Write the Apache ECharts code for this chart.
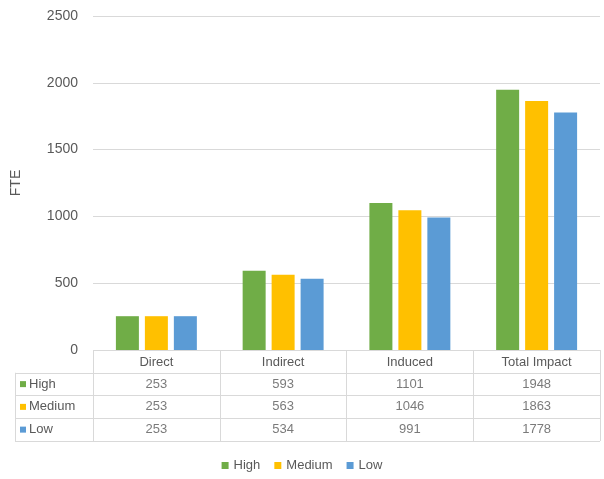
<!DOCTYPE html>
<html>
<head>
<meta charset="utf-8">
<script src="https://cdn.jsdelivr.net/npm/echarts@6/dist/echarts.min.js"></script>
<style>
  html, body { margin: 0; padding: 0; background: #fff; }
  #chart { width: 604px; height: 479px; }
</style>
</head>
<body>
<div id="chart"></div>
<script>
// Employment impact (FTE) by effect type and scenario
const categories = ['Direct', 'Indirect', 'Induced', 'Total Impact'];
const scenarios = ['High', 'Medium', 'Low'];
const highValues = [253, 593, 1101, 1948];
const mediumValues = [253, 563, 1046, 1863];
const lowValues = [253, 534, 991, 1778];
const yTicks = [0, 500, 1000, 1500, 2000, 2500];

const colors = { High: '#70AD47', Medium: '#FFC000', Low: '#5B9BD5' };
const seriesValues = { High: highValues, Medium: mediumValues, Low: lowValues };
const FONT = 'Liberation Sans, Arial, sans-serif';
const TEXT = '#595959';
const LINE = '#D9D9D9';

// Table rows (top to bottom); the category axis lists them bottom-up
const tableRows = ['', 'High', 'Medium', 'Low'];
const tableAxisRows = tableRows.slice().reverse();
const labelRows = scenarios.slice().reverse();

const chart = echarts.init(document.getElementById('chart'));

const barSeries = scenarios.map(name => ({
  name,
  type: 'bar',
  xAxisIndex: 0,
  yAxisIndex: 0,
  barWidth: 23,
  barGap: '26%',
  itemStyle: { color: colors[name] },
  data: seriesValues[name]
}));

// Cell values of the data table, one scatter per scenario
const cellSeries = scenarios.map(name => ({
  name: name + ' table',
  type: 'scatter',
  xAxisIndex: 1,
  yAxisIndex: 1,
  symbolSize: 0,
  silent: true,
  label: {
    show: true,
    position: 'inside',
    color: TEXT,
    fontFamily: FONT,
    fontSize: 13,
    formatter: p => String(p.value[2])
  },
  data: categories.map((c, i) => [c, name, seriesValues[name][i]])
}));

const option = {
  animation: false,
  textStyle: { fontFamily: FONT },
  legend: {
    data: scenarios,
    bottom: 2,
    left: 'center',
    icon: 'rect',
    itemWidth: 7,
    itemHeight: 7,
    itemGap: 14,
    textStyle: { color: TEXT, fontSize: 13, fontFamily: FONT }
  },
  grid: [
    // bar plot
    { left: 93, right: 4, top: 16, height: 334 },
    // value cells + header row
    { left: 93, right: 4, top: 350, height: 91 },
    // row label column
    { left: 15, width: 78, top: 372.75, height: 68.25 }
  ],
  xAxis: [
    {
      gridIndex: 0,
      type: 'category',
      data: categories,
      axisLine: { show: false },
      axisTick: { show: false },
      axisLabel: { color: TEXT, fontSize: 13, fontFamily: FONT, margin: 5, lineHeight: 14 }
    },
    {
      gridIndex: 1,
      type: 'category',
      data: categories,
      axisLine: { show: false },
      axisTick: { show: false },
      axisLabel: { show: false },
      splitLine: { show: true, lineStyle: { color: LINE, width: 1 } }
    },
    {
      gridIndex: 2,
      type: 'category',
      data: [''],
      axisLine: { show: false },
      axisTick: { show: false },
      axisLabel: { show: false },
      splitLine: { show: true, lineStyle: { color: LINE, width: 1 } }
    }
  ],
  yAxis: [
    {
      gridIndex: 0,
      type: 'value',
      min: yTicks[0],
      max: yTicks[yTicks.length - 1],
      interval: yTicks[1] - yTicks[0],
      name: 'FTE',
      nameLocation: 'middle',
      nameGap: 70,
      nameRotate: 90,
      nameTextStyle: { color: TEXT, fontSize: 14, fontFamily: FONT },
      axisLine: { show: false },
      axisTick: { show: false },
      axisLabel: {
        color: TEXT,
        fontSize: 14,
        fontFamily: FONT,
        margin: 15,
        formatter: v => String(v)
      },
      splitLine: { lineStyle: { color: LINE, width: 1 } }
    },
    {
      gridIndex: 1,
      type: 'category',
      data: tableAxisRows,
      boundaryGap: true,
      axisLine: { show: false },
      axisTick: { show: false },
      axisLabel: { show: false },
      splitLine: { show: true, lineStyle: { color: LINE, width: 1 } }
    },
    {
      gridIndex: 2,
      type: 'category',
      data: labelRows,
      axisLine: { show: false },
      axisTick: { show: false },
      splitLine: { show: true, lineStyle: { color: LINE, width: 1 } },
      axisLabel: {
        inside: true,
        margin: 5,
        align: 'left',
        fontFamily: FONT,
        fontSize: 13,
        color: TEXT,
        formatter: v => '{' + v + '|}{gap|}' + v,
        rich: {
          High: { width: 6, height: 6, backgroundColor: colors.High },
          Medium: { width: 6, height: 6, backgroundColor: colors.Medium },
          Low: { width: 6, height: 6, backgroundColor: colors.Low },
          gap: { width: 3 }
        }
      }
    }
  ],
  series: barSeries.concat(cellSeries)
};

chart.setOption(option);
</script>
</body>
</html>
